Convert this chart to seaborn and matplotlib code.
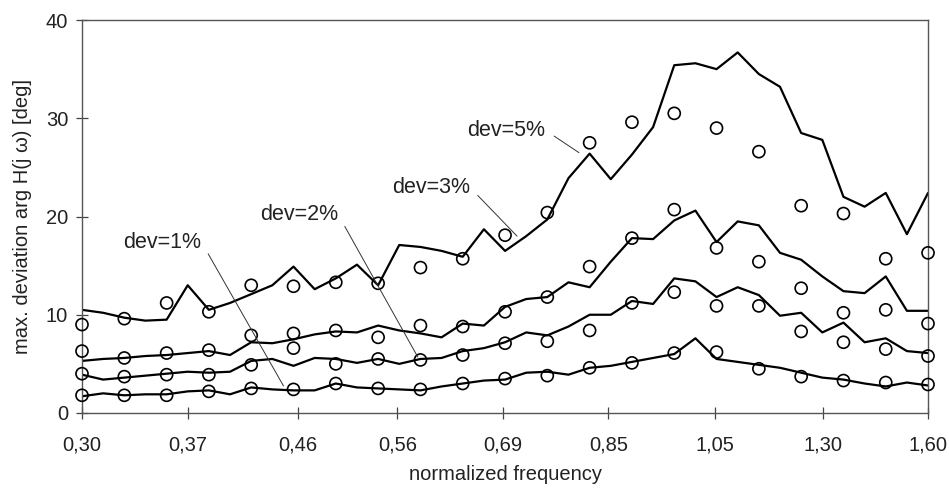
import matplotlib
matplotlib.use("Agg")
import matplotlib.pyplot as plt
import matplotlib.ticker as mticker
import numpy as np
import pandas as pd
import seaborn as sns

# normalized frequency grid (logarithmic steps from 0.30 to 1.60)
freq = [0.3000, 0.3128, 0.3262, 0.3401, 0.3547, 0.3698, 0.3856, 0.4021, 0.4193, 0.4372,
        0.4559, 0.4754, 0.4957, 0.5169, 0.5390, 0.5620, 0.5861, 0.6111, 0.6372, 0.6645,
        0.6929, 0.7225, 0.7533, 0.7855, 0.8191, 0.8541, 0.8906, 0.9287, 0.9684, 1.0098,
        1.0529, 1.0979, 1.1449, 1.1938, 1.2448, 1.2980, 1.3535, 1.4113, 1.4716, 1.5345,
        1.6000]

# maximum phase deviation, simulated worst case (lines)
dev5_line = [10.5, 10.2, 9.7, 9.4, 9.5, 13.0, 10.5, 11.2, 12.1, 13.0, 14.9, 12.6, 13.7, 15.1,
             13.0, 17.1, 16.9, 16.5, 15.9, 18.7, 16.5, 18.0, 19.7, 23.9, 26.4, 23.8, 26.3,
             29.1, 35.4, 35.6, 35.0, 36.7, 34.5, 33.2, 28.5, 27.8, 22.0, 21.0, 22.4, 18.2, 22.4]
dev3_line = [5.3, 5.5, 5.6, 5.8, 5.9, 6.1, 6.3, 5.9, 7.2, 7.1, 7.5, 8.0, 8.3, 8.2, 8.9, 8.4,
             8.1, 7.7, 9.1, 8.9, 10.8, 11.6, 11.8, 13.3, 12.8, 15.4, 17.8, 17.7, 19.6, 20.6,
             17.4, 19.5, 19.1, 16.3, 15.6, 13.9, 12.4, 12.2, 13.9, 10.4, 10.4]
dev2_line = [3.9, 3.4, 3.6, 3.8, 4.0, 4.2, 4.1, 4.2, 5.3, 5.5, 4.8, 5.6, 5.5, 5.1, 5.5, 5.0,
             5.5, 5.6, 6.3, 6.6, 7.2, 8.2, 7.9, 8.8, 10.0, 10.0, 11.4, 11.1, 13.7, 13.4,
             11.8, 12.8, 12.0, 9.9, 10.2, 8.2, 9.2, 7.2, 7.6, 6.3, 6.1]
dev1_line = [1.7, 2.0, 1.8, 1.9, 1.9, 2.2, 2.3, 1.9, 2.6, 2.4, 2.3, 2.3, 3.0, 2.6, 2.5, 2.4,
             2.3, 2.7, 3.0, 3.3, 3.4, 4.1, 4.2, 3.9, 4.6, 4.8, 5.2, 5.6, 6.0, 7.6, 5.5, 5.2,
             4.9, 4.6, 4.1, 3.6, 3.4, 3.0, 2.7, 3.1, 2.8]

# measured deviation (circles), every second frequency
dev5_meas = [9.0, 9.6, 11.2, 10.3, 13.0, 12.9, 13.3, 13.2, 14.8, 15.7, 18.1, 20.4, 27.5,
             29.6, 30.5, 29.0, 26.6, 21.1, 20.3, 15.7, 16.3]
dev3_meas = [6.3, 5.6, 6.1, 6.4, 7.9, 8.1, 8.4, 7.7, 8.9, 8.8, 10.3, 11.8, 14.9, 17.8, 20.7,
             16.8, 15.4, 12.7, 10.2, 10.5, 9.1]
dev2_meas = [4.0, 3.7, 3.9, 3.9, 4.9, 6.6, 5.0, 5.5, 5.4, 5.9, 7.1, 7.3, 8.4, 11.2, 12.3,
             10.9, 10.9, 8.3, 7.2, 6.5, 5.8]
dev1_meas = [1.8, 1.8, 1.8, 2.2, 2.5, 2.4, 3.0, 2.5, 2.4, 3.0, 3.5, 3.8, 4.6, 5.1, 6.1, 6.2,
             4.5, 3.7, 3.3, 3.1, 2.9]

series = ["dev=5%", "dev=3%", "dev=2%", "dev=1%"]
tick_freq = [0.30, 0.37, 0.46, 0.56, 0.69, 0.85, 1.05, 1.30, 1.60]
tick_labels = ["0,30", "0,37", "0,46", "0,56", "0,69", "0,85", "1,05", "1,30", "1,60"]

# label text position (freq, value) and leader target (freq, value)
label_text = [(0.750, 28.8), (0.646, 23.0), (0.498, 20.2), (0.380, 17.4)]
label_target = [(0.802, 26.5), (0.7095, 18.0), (0.583, 5.7), (0.447, 2.75)]

lines = pd.concat([pd.DataFrame({"freq": freq, "dev": v, "series": s})
                   for s, v in zip(series, [dev5_line, dev3_line, dev2_line, dev1_line])])
meas_freq = freq[::2]
meas = pd.concat([pd.DataFrame({"freq": meas_freq, "dev": v, "series": s})
                  for s, v in zip(series, [dev5_meas, dev3_meas, dev2_meas, dev1_meas])])

sns.set_style("ticks")
plt.rcParams["font.family"] = ["Liberation Sans", "DejaVu Sans"]

fig = plt.figure(figsize=(9.49, 4.92), dpi=100)
ax = fig.add_axes([0.0864, 0.1606, 0.8915, 0.7987])

sns.lineplot(data=lines, x="freq", y="dev", hue="series", palette=["black"] * 4,
             linewidth=1.6, legend=False, ax=ax, sort=False)
sns.scatterplot(data=meas, x="freq", y="dev", marker="o", s=75, facecolors="none",
                edgecolors="black", linewidths=1.2, legend=False, ax=ax, clip_on=False,
                zorder=3)

ax.set_xscale("log")
ax.set_xlim(0.3, 1.6)
ax.set_ylim(0, 40)
ax.xaxis.set_major_locator(mticker.FixedLocator(tick_freq))
ax.xaxis.set_major_formatter(mticker.FixedFormatter(tick_labels))
ax.xaxis.set_minor_locator(mticker.NullLocator())
ax.set_yticks([0, 10, 20, 30, 40])

for sp in ax.spines.values():
    sp.set_visible(True)
    sp.set_color("#555555")
    sp.set_linewidth(1.0)

ax.tick_params(axis="both", direction="inout", length=8, width=0.9, color="#444444",
               labelsize=14.5, labelcolor="#222222")
ax.tick_params(axis="x", pad=12)
ax.tick_params(axis="y", pad=6)

ax.set_xlabel("normalized frequency", fontsize=14.5, color="#222222", labelpad=8)
ax.set_ylabel("max. deviation arg H(j ω) [deg]", fontsize=14.5, color="#222222", labelpad=10)

for s, (tx, ty), (px, py) in zip(series, label_text, label_target):
    ax.annotate(s, xy=(px, py), xytext=(tx, ty), ha="right", va="center",
                fontsize=15.5, color="#222222",
                arrowprops=dict(arrowstyle="-", color="#333333", lw=0.7,
                                shrinkA=5, shrinkB=0, relpos=(1, 0.5)))

fig.savefig("out.png", dpi=100, facecolor="white")
